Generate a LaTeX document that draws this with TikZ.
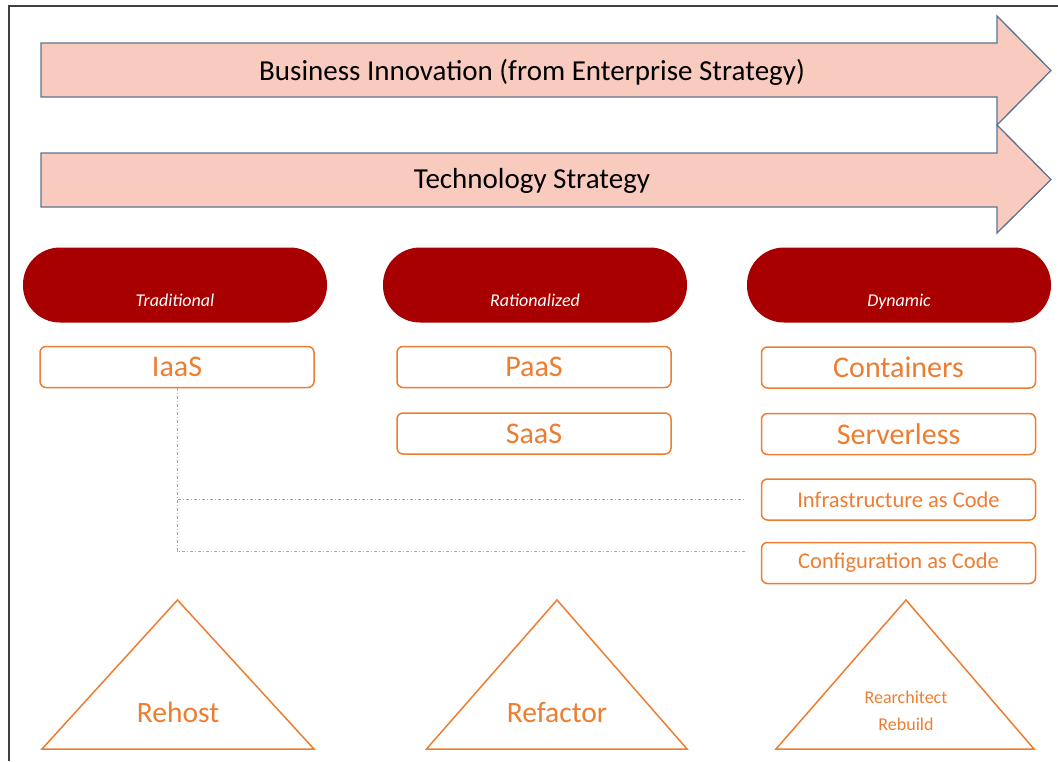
\documentclass[tikz,border=0pt]{standalone}
\usepackage{fontspec}
\setmainfont{Carlito}
\usetikzlibrary{positioning,calc}

\definecolor{pillred}{HTML}{A80000}
\definecolor{boxorange}{HTML}{ED7D31}
\definecolor{arrowfill}{HTML}{F9CBBF}
\definecolor{arrowline}{HTML}{5A7393}
\definecolor{linkblue}{HTML}{86AEE0}
\definecolor{framegrey}{HTML}{404040}

\tikzset{
  bigarrow/.style={draw=arrowline, fill=arrowfill, line width=1.3pt, line join=miter},
  arrowtext/.style={font=\fontsize{29}{32}\selectfont, text=black},
  pill/.style={rectangle, rounded corners=37pt, fill=pillred, minimum width=304pt, minimum height=75pt},
  pilltext/.style={text=white, anchor=base, font=\fontsize{18}{20}\selectfont\itshape},
  option/.style={rectangle, rounded corners=6pt, draw=boxorange, line width=1.5pt, fill=white,
    minimum width=274pt, minimum height=41pt, text=boxorange, font=\fontsize{30}{32}\selectfont},
  smalloption/.style={option, font=\fontsize{22.5}{24}\selectfont},
  link/.style={draw=linkblue, line width=1pt, dash pattern=on 3pt off 2pt on 1pt off 2pt},
  approach/.style={draw=boxorange, line width=1.5pt, line join=miter},
  approachtext/.style={text=boxorange, font=\fontsize{29.5}{32}\selectfont},
  approachsmall/.style={text=boxorange, font=\fontsize{18}{27}\selectfont, align=center},
}

\begin{document}
\begin{tikzpicture}[x=1pt,y=-1pt]
\useasboundingbox (0,0) rectangle (1058,761);

% frame
\draw[framegrey, line width=2pt] (9,761) -- (9,6) -- (1058,6);

% strategy arrows
\draw[bigarrow] (41,43) -- (997,43) -- (997,16) -- (1051,70.5) -- (997,125) -- (997,97) -- (41,97) -- cycle;
\node[arrowtext] (business) at (532,72) {Business Innovation (from Enterprise Strategy)};
\draw[bigarrow] (41,153) -- (997,153) -- (997,125) -- (1051,179.5) -- (997,233) -- (997,207) -- (41,207) -- cycle;
\node[arrowtext] (technology) at (532,181) {Technology Strategy};

% categories
\node[pill] (traditional) at (175,285) {};
\node[pill] (rationalized) at (535,285) {};
\node[pill] (dynamic) at (899,285) {};
\node[pilltext] at ([yshift=-21pt]traditional.center) {Traditional};
\node[pilltext] at ([yshift=-21pt]rationalized.center) {Rationalized};
\node[pilltext] at ([yshift=-21pt]dynamic.center) {Dynamic};

% services
\node[option] (iaas) at (177,367) {IaaS};
\node[option] (paas) at (534,367) {PaaS};
\node[option] (saas) at (534,433.5) {SaaS};
\node[option] (containers) at (898.5,367.5) {Containers};
\node[option] (serverless) at (898.5,434) {Serverless};
\node[smalloption] (iac) at (898.5,499.5) {Infrastructure as Code};
\node[smalloption] (cac) at (898.5,563) {Configuration as Code};

% links
\coordinate (iacend) at ([xshift=-15pt]iac.west);
\coordinate (cacend) at ([xshift=-15pt,yshift=12pt]cac.west);
\draw[link] (iaas.south) |- (iacend);
\draw[link] (iaas.south) |- (cacend);

% approaches
\draw[approach] (177.5,600) -- (314,749) -- (42,749) -- cycle;
\draw[approach] (557,600) -- (687,749) -- (426.5,749) -- cycle;
\draw[approach] (906,600) -- (1034,749) -- (776,749) -- cycle;
\node[approachtext] (rehost) at (178,712) {Rehost};
\node[approachtext] (refactor) at (557,712) {Refactor};
\node[approachsmall] (rearchitect) at (906,711) {Rearchitect\\Rebuild};
\end{tikzpicture}
\end{document}
